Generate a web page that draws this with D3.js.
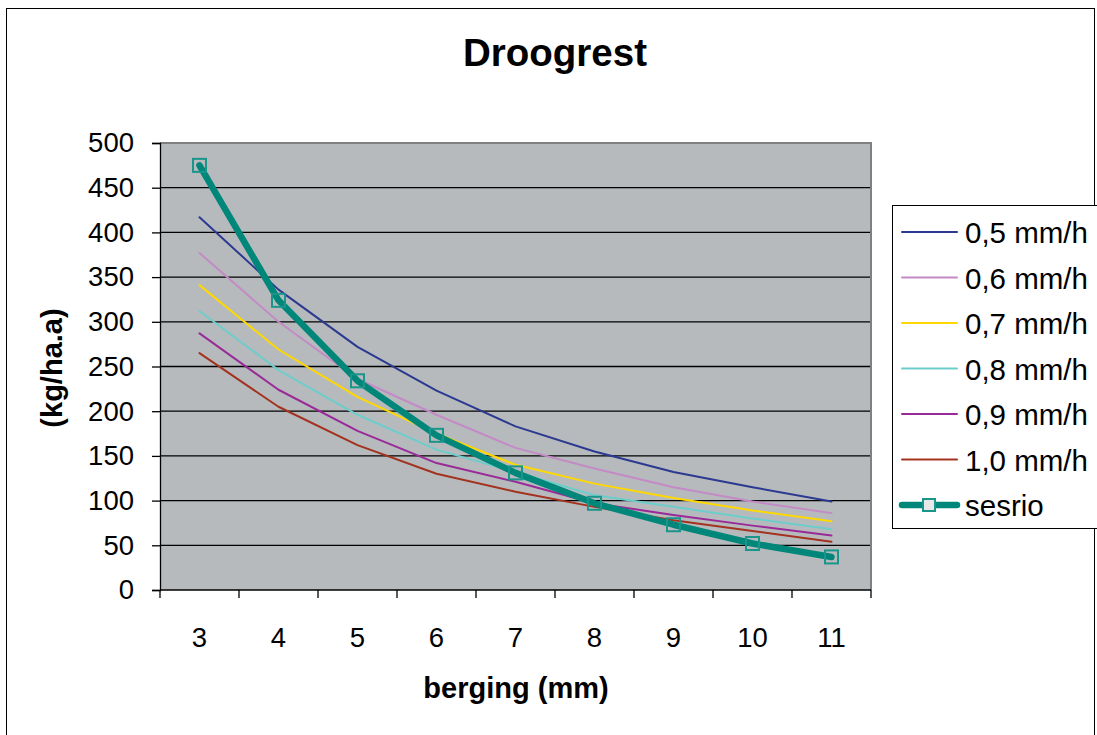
<!DOCTYPE html>
<html>
<head>
<meta charset="utf-8">
<script src="https://cdn.jsdelivr.net/npm/d3@7"></script>
<style>
  html, body { margin: 0; padding: 0; background: #ffffff; }
  svg { display: block; font-family: "Liberation Sans", Arial, sans-serif; }
</style>
</head>
<body>
<svg id="chart" width="1097" height="735"></svg>
<script>
// Berging (mm) categories on the x axis
const categories = ["3", "4", "5", "6", "7", "8", "9", "10", "11"];

// Droogrest (kg/ha.a) per rain intensity
const serie05 = [417, 336, 272, 223, 183, 155, 132, 115, 99];
const serie06 = [377, 300, 236, 196, 159, 136, 115, 99, 86];
const serie07 = [341, 269, 216, 175, 140, 119, 103, 89, 77];
const serie08 = [312, 246, 196, 157, 132, 106, 93, 80, 68];
const serie09 = [287, 224, 178, 142, 121, 97, 84, 72, 61];
const serie10 = [265, 205, 162, 130, 110, 93, 78, 66, 54];
const sesrio  = [475, 324, 234, 173, 131, 97, 73, 52, 37];

const seriesNames = ["0,5 mm/h", "0,6 mm/h", "0,7 mm/h", "0,8 mm/h", "0,9 mm/h", "1,0 mm/h", "sesrio"];
const yTicks = [0, 50, 100, 150, 200, 250, 300, 350, 400, 450, 500];

const series = [
  { name: seriesNames[0], values: serie05, color: "#2b3990", width: 2 },
  { name: seriesNames[1], values: serie06, color: "#c48ac6", width: 2 },
  { name: seriesNames[2], values: serie07, color: "#ffd800", width: 2 },
  { name: seriesNames[3], values: serie08, color: "#6dcdcb", width: 2 },
  { name: seriesNames[4], values: serie09, color: "#9a2a98", width: 2 },
  { name: seriesNames[5], values: serie10, color: "#a3321f", width: 2 },
  { name: seriesNames[6], values: sesrio,  color: "#00877a", width: 6.5, marker: true }
];

const svg = d3.select("#chart");

// outer chart frame
svg.append("rect")
  .attr("x", 6.5).attr("y", 8.5)
  .attr("width", 1088).attr("height", 740)
  .attr("fill", "#ffffff").attr("stroke", "#000000").attr("stroke-width", 1);

const plot = { left: 160, top: 143, right: 871, bottom: 590 };

const x = d3.scaleBand().domain(categories).range([plot.left, plot.right]);
const y = d3.scaleLinear().domain([0, 500]).range([plot.bottom, plot.top]);

// plot area background
svg.append("rect")
  .attr("x", plot.left).attr("y", plot.top)
  .attr("width", plot.right - plot.left).attr("height", plot.bottom - plot.top)
  .attr("fill", "#b6babd");

// horizontal gridlines
svg.append("g")
  .selectAll("line")
  .data(yTicks.filter(d => d > 0))
  .join("line")
  .attr("x1", plot.left).attr("x2", plot.right)
  .attr("y1", d => y(d)).attr("y2", d => y(d))
  .attr("stroke", "#000000").attr("stroke-width", 1.3);

// plot frame (top and right in grey)
svg.append("path")
  .attr("d", `M${plot.left},${plot.top}H${plot.right}V${plot.bottom}`)
  .attr("fill", "none").attr("stroke", "#808080").attr("stroke-width", 2);

// y axis
const yAxis = d3.axisLeft(y).tickValues(yTicks).tickSize(8).tickPadding(18);
const gy = svg.append("g").attr("transform", `translate(${plot.left},0)`).call(yAxis);
gy.select(".domain").attr("stroke", "#000").attr("stroke-width", 1.3);
gy.selectAll(".tick line").attr("stroke", "#000").attr("stroke-width", 1.3);
gy.selectAll(".tick text")
  .attr("font-size", 27.5).attr("fill", "#000")
  .attr("font-family", "Liberation Sans, Arial, sans-serif");

// x axis with ticks on the category boundaries
const gx = svg.append("g").attr("transform", `translate(0,${plot.bottom})`);
gx.append("line")
  .attr("x1", plot.left).attr("x2", plot.right)
  .attr("stroke", "#000").attr("stroke-width", 1.3);
const boundaries = categories.map(c => x(c)).concat([x(categories[categories.length - 1]) + x.bandwidth()]);
gx.selectAll("line.tk")
  .data(boundaries)
  .join("line").attr("class", "tk")
  .attr("x1", d => d).attr("x2", d => d)
  .attr("y1", 0).attr("y2", 8)
  .attr("stroke", "#000").attr("stroke-width", 1.3);
gx.selectAll("text")
  .data(categories)
  .join("text")
  .attr("x", d => x(d) + x.bandwidth() / 2)
  .attr("y", 57)
  .attr("text-anchor", "middle")
  .attr("font-size", 27.5)
  .text(d => d);

// series lines
const line = d3.line()
  .x((d, i) => x(categories[i]) + x.bandwidth() / 2)
  .y(d => y(d));

const gLines = svg.append("g");
series.forEach(s => {
  gLines.append("path")
    .datum(s.values)
    .attr("d", line)
    .attr("fill", "none")
    .attr("stroke", s.color)
    .attr("stroke-width", s.width)
    .attr("stroke-linejoin", "round")
    .attr("stroke-linecap", "round");
  if (s.marker) {
    gLines.selectAll(null)
      .data(s.values)
      .join("rect")
      .attr("x", (d, i) => x(categories[i]) + x.bandwidth() / 2 - 6.5)
      .attr("y", d => y(d) - 6.5)
      .attr("width", 13).attr("height", 13)
      .attr("fill", "none")
      .attr("stroke", "#1a958b")
      .attr("stroke-width", 2);
  }
});

// title
svg.append("text")
  .attr("x", 555).attr("y", 66)
  .attr("text-anchor", "middle")
  .attr("font-size", 38.5).attr("font-weight", "bold")
  .text("Droogrest");

// axis titles
svg.append("text")
  .attr("x", 516).attr("y", 698)
  .attr("text-anchor", "middle")
  .attr("font-size", 29).attr("font-weight", "bold")
  .text("berging (mm)");

svg.append("text")
  .attr("transform", "translate(62,368) rotate(-90)")
  .attr("text-anchor", "middle")
  .attr("font-size", 29).attr("font-weight", "bold")
  .text("(kg/ha.a)");

// legend
const legend = svg.append("g");
legend.append("rect")
  .attr("x", 892.5).attr("y", 205.5)
  .attr("width", 210).attr("height", 323)
  .attr("fill", "#ffffff").attr("stroke", "#000").attr("stroke-width", 1);

const legendY = d3.scalePoint().domain(seriesNames).range([232, 505]);
series.forEach(s => {
  const ly = legendY(s.name);
  legend.append("line")
    .attr("x1", 902).attr("x2", 957)
    .attr("y1", ly).attr("y2", ly)
    .attr("stroke", s.color)
    .attr("stroke-width", s.marker ? 6.5 : 2)
    .attr("stroke-linecap", "round");
  if (s.marker) {
    legend.append("rect")
      .attr("x", 923).attr("y", ly - 6)
      .attr("width", 12).attr("height", 12)
      .attr("fill", "#e8e8e8").attr("stroke", "#1a958b").attr("stroke-width", 2);
  }
  legend.append("text")
    .attr("x", 965).attr("y", ly + 11)
    .attr("font-size", 29.5)
    .text(s.name);
});
</script>
</body>
</html>
